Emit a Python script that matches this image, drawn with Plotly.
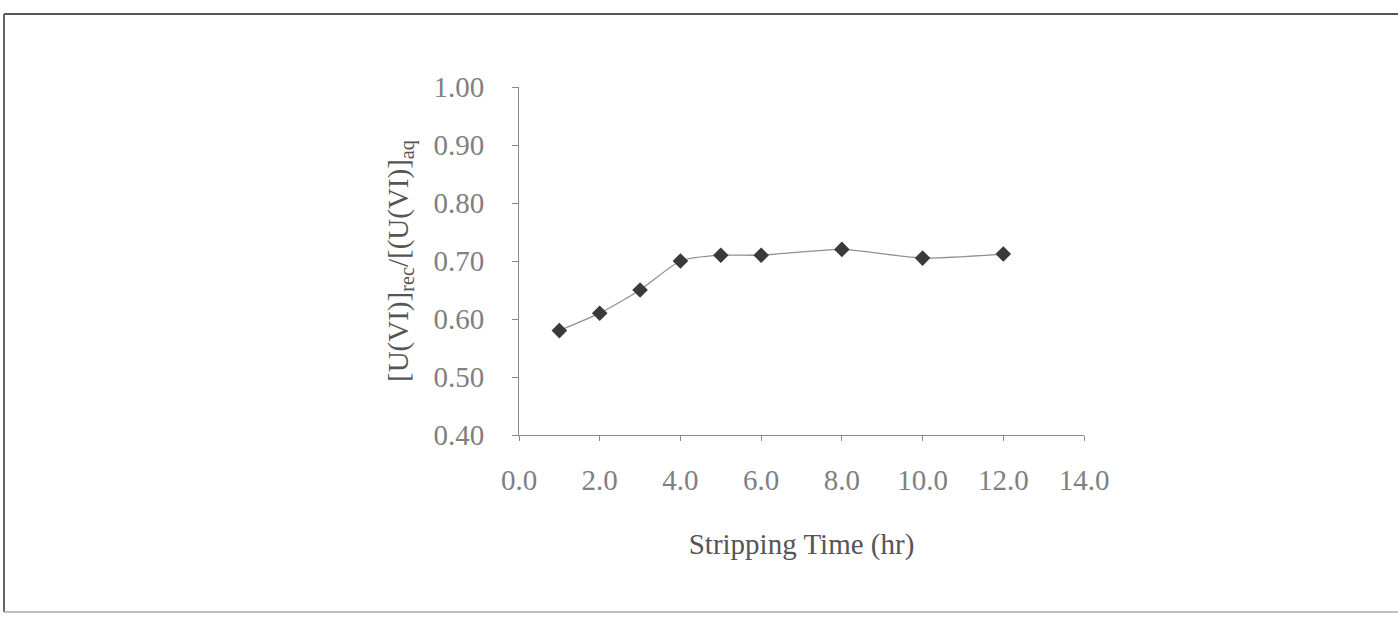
import plotly.graph_objects as go

time_hr = [1, 2, 3, 4, 5, 6, 8, 10, 12]
ratio = [0.58, 0.61, 0.65, 0.70, 0.71, 0.71, 0.72, 0.705, 0.712]
x_ticks = [0, 2, 4, 6, 8, 10, 12, 14]
y_ticks = [0.40, 0.50, 0.60, 0.70, 0.80, 0.90, 1.00]

W, H = 1398, 618
L, R, T, B = 519, 1084, 87, 435
pw, ph = R - L, B - T

def px(x):
    return (x - L) / pw

def py(y):
    return (B - y) / ph

fig = go.Figure()
fig.add_trace(go.Scatter(
    x=time_hr, y=ratio, mode="lines+markers",
    line=dict(color="#909090", width=1.3, shape="spline", smoothing=0.6),
    marker=dict(symbol="diamond", size=12, color="#3a3a3a"),
    showlegend=False,
))

font = "Liberation Serif, Times New Roman, serif"
fig.update_layout(
    width=W, height=H,
    margin=dict(l=L, r=W - R, t=T, b=H - B),
    paper_bgcolor="white", plot_bgcolor="white",
    font=dict(family=font, color="#777777", size=29),
    xaxis=dict(
        range=[0, 14], tickvals=x_ticks, tickformat=".1f",
        showgrid=False, zeroline=False, showline=True, linecolor="#8a8a8a", linewidth=1,
        ticks="outside", ticklen=5, tickcolor="#8a8a8a", ticklabelstandoff=14,
        tickfont=dict(size=29, color="#808080"),
        title=dict(text="Stripping Time (hr)", font=dict(size=29, color="#555555"), standoff=38),
    ),
    yaxis=dict(
        range=[0.40, 1.00], tickvals=y_ticks, tickformat=".2f",
        showgrid=False, zeroline=False, showline=True, linecolor="#8a8a8a", linewidth=1,
        ticks="outside", ticklen=6, tickcolor="#8a8a8a", ticklabelstandoff=22,
        tickfont=dict(size=29, color="#808080"),
        title=dict(text="[U(VI)]<sub>rec</sub>/[(U(VI)]<sub>aq</sub>",
                   font=dict(size=29, color="#555555"), standoff=16),
    ),
)

# scanned frame around the figure
fig.add_shape(type="line", xref="paper", yref="paper",
              x0=px(4), y0=py(14), x1=px(1400), y1=py(14),
              line=dict(color="#555555", width=2))
fig.add_shape(type="line", xref="paper", yref="paper",
              x0=px(4), y0=py(14), x1=px(4), y1=py(612),
              line=dict(color="#666666", width=2))
fig.add_shape(type="line", xref="paper", yref="paper",
              x0=px(4), y0=py(612), x1=px(1400), y1=py(612),
              line=dict(color="#aaaaaa", width=1.5))

fig.write_html("out.html")
